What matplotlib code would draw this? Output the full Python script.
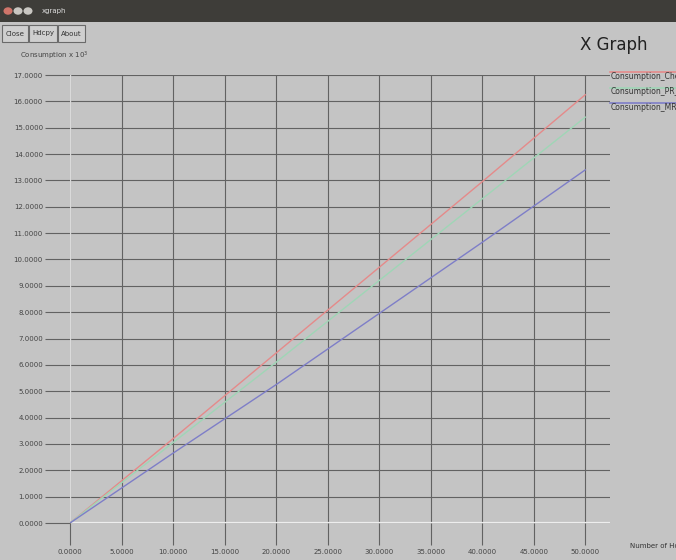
import numpy as np
import matplotlib.pyplot as plt
from matplotlib.patches import Rectangle, Circle
from matplotlib.lines import Line2D

# data (y in units of 10^3)
hops = [0, 10, 20, 30, 40, 50]
cons_chep = [0.0, 3.2, 6.45, 9.7, 12.95, 16.25]
cons_pr = [0.0, 3.05, 6.1, 9.2, 12.3, 15.4]
cons_mrp = [0.0, 2.65, 5.25, 7.95, 10.65, 13.4]
series_names = ["Consumption_Chep", "Consumption_PR_", "Consumption_MRP"]
series_colors = ["#e58a8a", "#9fd6b6", "#7e7ec8"]
x_ticks = np.arange(0, 55, 5)
y_ticks = np.arange(0, 18, 1)

W, H = 676, 560
bg = "#c4c4c4"
grid_c = "#626262"

fig = plt.figure(figsize=(W / 100, H / 100), dpi=100)
fig.patch.set_facecolor(bg)

def fx(px):
    return px / W

def fy(py):
    return 1 - py / H

# window title bar
fig.patches.append(Rectangle((0, fy(22)), 1, 22 / H, transform=fig.transFigure,
                             facecolor="#3e3d39", edgecolor="none"))
for i, c in enumerate(["#d0756a", "#c9c7c2", "#c9c7c2"]):
    fig.patches.append(Circle((fx(8 + i * 10), fy(11)), 4.5 / W, transform=fig.transFigure,
                              facecolor=c, edgecolor="none"))
fig.text(fx(42), fy(11), "xgraph", color="#dddddd", fontsize=5, va="center")

# buttons
for lbl, x0, w in [("Close", 2, 26), ("Hdcpy", 29, 28), ("About", 58, 27)]:
    fig.patches.append(Rectangle((fx(x0), fy(42)), w / W, 17 / H, transform=fig.transFigure,
                                 facecolor="#cfcfcf", edgecolor="#6a6a6a", linewidth=0.8))
    fig.text(fx(x0 + w / 2), fy(33.5), lbl, fontsize=5, ha="center", va="center", color="#333333")

fig.text(fx(20), fy(56), r"Consumption x 10$^3$", fontsize=5, va="center", color="#444444")
fig.text(fx(580), fy(45), "X Graph", fontsize=12, va="center", color="#222222")

ax = fig.add_axes([fx(70), fy(523), (610 - 70) / W, (523 - 75) / H])
ax.set_facecolor(bg)
for s in ax.spines.values():
    s.set_visible(False)

ax.set_xlim(0, 52.4)
ax.set_ylim(0, 17)
ax.set_xticks(x_ticks)
ax.set_yticks(y_ticks)
ax.set_xticklabels(["%.4f" % v for v in x_ticks])
ax.set_yticklabels(["%.4f" % v for v in y_ticks])
ax.tick_params(axis="x", length=16, width=0.8, color=grid_c, labelsize=5,
               labelcolor="#444444", pad=3)
ax.tick_params(axis="y", length=18, width=0.8, color=grid_c, labelsize=5,
               labelcolor="#444444", pad=1.5)
ax.grid(True, color=grid_c, linewidth=0.8)
ax.set_axisbelow(True)
ax.axhline(0, color="#ededed", linewidth=1.6, zorder=1)
ax.axvline(0, color="#dadada", linewidth=1.0, zorder=1)

ax.plot(hops, cons_chep, color=series_colors[0], linewidth=1.0)
ax.plot(hops, cons_pr, color=series_colors[1], linewidth=1.0)
ax.plot(hops, cons_mrp, color=series_colors[2], linewidth=1.0)

# xgraph style legend: line above the label
for i, (name, c) in enumerate(zip(series_names, series_colors)):
    y0 = 72 + i * 15.5
    fig.add_artist(Line2D([fx(610), 1.0], [fy(y0), fy(y0)], transform=fig.transFigure,
                          color=c, linewidth=1.2))
    fig.text(fx(611), fy(y0 + 4.5), name, fontsize=5.5, va="center", color="#333333")

fig.text(fx(630), fy(546), "Number of Ho", fontsize=5, va="center", color="#333333")

plt.savefig("out.png", dpi=100, facecolor=fig.get_facecolor())
